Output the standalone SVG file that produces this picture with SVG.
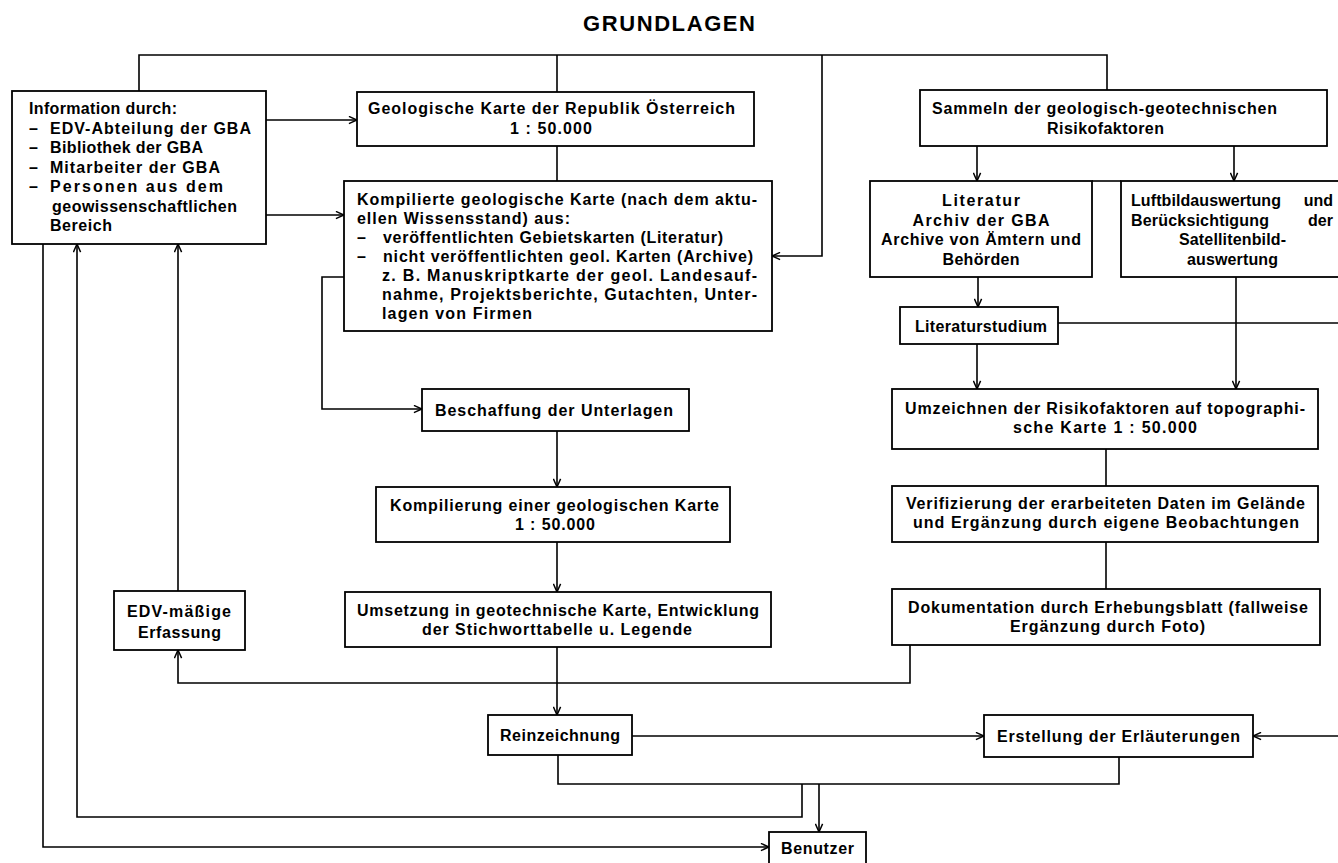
<svg xmlns="http://www.w3.org/2000/svg" width="1338" height="863" viewBox="0 0 1338 863">
<style>
  .box{fill:#fff;stroke:#000;stroke-width:1.8}
  .t{font-family:"Liberation Sans",Arial,Helvetica,sans-serif;font-weight:bold;font-size:16px;fill:#000}
  .title{font-family:"Liberation Sans",Arial,Helvetica,sans-serif;font-weight:bold;font-size:22px;fill:#000}
  .c{fill:none;stroke:#000;stroke-width:1.6}
</style>
<defs>
  <marker id="ah" viewBox="0 0 10 10" refX="10" refY="5" markerWidth="9" markerHeight="9" markerUnits="userSpaceOnUse" orient="auto">
    <path d="M1,1 L10,5 L1,9" fill="none" stroke="#000" stroke-width="1.6"/>
  </marker>
</defs>
<rect width="1338" height="863" fill="#fff"/>
<text class="title" x="583" y="31" textLength="172" lengthAdjust="spacing">GRUNDLAGEN</text>

<g id="connectors">
  <path class="c" d="M139,91 V55 H1107 V90"/>
  <path class="c" d="M557,55 V92"/>
  <path class="c" d="M822,55 V256 H772" marker-end="url(#ah)"/>
  <path class="c" d="M266,120 H357" marker-end="url(#ah)"/>
  <path class="c" d="M266,215 H344" marker-end="url(#ah)"/>
  <path class="c" d="M557,146 V181"/>
  <path class="c" d="M344,277 H322 V409 H422" marker-end="url(#ah)"/>
  <path class="c" d="M557,431 V487" marker-end="url(#ah)"/>
  <path class="c" d="M557,542 V592" marker-end="url(#ah)"/>
  <path class="c" d="M557,647 V715" marker-end="url(#ah)"/>
  <path class="c" d="M632,736 H984" marker-end="url(#ah)"/>
  <path class="c" d="M1340,736 H1253" marker-end="url(#ah)"/>
  <path class="c" d="M558,755 V784 H1119 V757"/>
  <path class="c" d="M819,784 V832" marker-end="url(#ah)"/>
  <path class="c" d="M802,784 V817 H77 V244" marker-end="url(#ah)"/>
  <path class="c" d="M43,244 V847 H769" marker-end="url(#ah)"/>
  <path class="c" d="M178,591 V244" marker-end="url(#ah)"/>
  <path class="c" d="M910,645 V683 H178 V650" marker-end="url(#ah)"/>
  <path class="c" d="M977,146 V181" marker-end="url(#ah)"/>
  <path class="c" d="M1234,146 V181" marker-end="url(#ah)"/>
  <path class="c" d="M1092,181 H1121"/>
  <path class="c" d="M978,277 V307" marker-end="url(#ah)"/>
  <path class="c" d="M1058,323 H1340"/>
  <path class="c" d="M1236,277 V389" marker-end="url(#ah)"/>
  <path class="c" d="M977,344 V389" marker-end="url(#ah)"/>
  <path class="c" d="M1106,449 V486"/>
  <path class="c" d="M1106,542 V589"/>
</g>

<g id="info">
  <rect class="box" x="12" y="91" width="254" height="153"/>
  <text class="t" x="29" y="114" textLength="148" lengthAdjust="spacing">Information durch:</text>
  <text class="t" x="29" y="133.5">–</text>
  <text class="t" x="50" y="133.5" textLength="201" lengthAdjust="spacing">EDV-Abteilung der GBA</text>
  <text class="t" x="29" y="153">–</text>
  <text class="t" x="50" y="153" textLength="153" lengthAdjust="spacing">Bibliothek der GBA</text>
  <text class="t" x="29" y="172.5">–</text>
  <text class="t" x="50" y="172.5" textLength="170" lengthAdjust="spacing">Mitarbeiter der GBA</text>
  <text class="t" x="29" y="192">–</text>
  <text class="t" x="50" y="192" textLength="173" lengthAdjust="spacing">Personen aus dem</text>
  <text class="t" x="52" y="211.5" textLength="185" lengthAdjust="spacing">geowissenschaftlichen</text>
  <text class="t" x="50" y="231" textLength="62" lengthAdjust="spacing">Bereich</text>
</g>

<g id="geokarte">
  <rect class="box" x="357" y="92" width="397" height="54"/>
  <text class="t" x="368" y="114" textLength="367" lengthAdjust="spacing">Geologische Karte der Republik Österreich</text>
  <text class="t" x="510" y="133.5" textLength="82" lengthAdjust="spacing">1 : 50.000</text>
</g>

<g id="kompilierte">
  <rect class="box" x="344" y="181" width="428" height="150"/>
  <text class="t" x="357" y="205" textLength="400" lengthAdjust="spacing">Kompilierte geologische Karte (nach dem aktu-</text>
  <text class="t" x="357" y="224" textLength="213" lengthAdjust="spacing">ellen Wissensstand) aus:</text>
  <text class="t" x="357" y="243">–</text>
  <text class="t" x="383" y="243" textLength="340" lengthAdjust="spacing">veröffentlichten Gebietskarten (Literatur)</text>
  <text class="t" x="357" y="262">–</text>
  <text class="t" x="383" y="262" textLength="370" lengthAdjust="spacing">nicht veröffentlichten geol. Karten (Archive)</text>
  <text class="t" x="382" y="281" textLength="375" lengthAdjust="spacing">z. B. Manuskriptkarte der geol. Landesauf-</text>
  <text class="t" x="382" y="300" textLength="375" lengthAdjust="spacing">nahme, Projektsberichte, Gutachten, Unter-</text>
  <text class="t" x="382" y="319" textLength="150" lengthAdjust="spacing">lagen von Firmen</text>
</g>

<g id="beschaffung">
  <rect class="box" x="422" y="389" width="267" height="42"/>
  <text class="t" x="435" y="415.5" textLength="238" lengthAdjust="spacing">Beschaffung der Unterlagen</text>
</g>

<g id="kompilierung">
  <rect class="box" x="376" y="487" width="354" height="55"/>
  <text class="t" x="390" y="511" textLength="329" lengthAdjust="spacing">Kompilierung einer geologischen Karte</text>
  <text class="t" x="515" y="530" textLength="80" lengthAdjust="spacing">1 : 50.000</text>
</g>

<g id="umsetzung">
  <rect class="box" x="345" y="592" width="426" height="55"/>
  <text class="t" x="357" y="616" textLength="402" lengthAdjust="spacing">Umsetzung in geotechnische Karte, Entwicklung</text>
  <text class="t" x="422" y="635" textLength="270" lengthAdjust="spacing">der Stichworttabelle u. Legende</text>
</g>

<g id="edv">
  <rect class="box" x="114" y="591" width="131" height="59"/>
  <text class="t" x="127" y="616.5" textLength="104" lengthAdjust="spacing">EDV-mäßige</text>
  <text class="t" x="138" y="637.5" textLength="83" lengthAdjust="spacing">Erfassung</text>
</g>

<g id="reinzeichnung">
  <rect class="box" x="488" y="715" width="144" height="40"/>
  <text class="t" x="500" y="741" textLength="120" lengthAdjust="spacing">Reinzeichnung</text>
</g>

<g id="erstellung">
  <rect class="box" x="984" y="715" width="269" height="42"/>
  <text class="t" x="997" y="742" textLength="243" lengthAdjust="spacing">Erstellung der Erläuterungen</text>
</g>

<g id="benutzer">
  <rect class="box" x="769" y="832" width="97" height="40"/>
  <text class="t" x="781" y="854" textLength="73" lengthAdjust="spacing">Benutzer</text>
</g>

<g id="sammeln">
  <rect class="box" x="920" y="90" width="407" height="56"/>
  <text class="t" x="932" y="113.5" textLength="345" lengthAdjust="spacing">Sammeln der geologisch-geotechnischen</text>
  <text class="t" x="1047" y="133.5" textLength="117" lengthAdjust="spacing">Risikofaktoren</text>
</g>

<g id="literatur">
  <rect class="box" x="870" y="181" width="222" height="96"/>
  <text class="t" x="942" y="206" textLength="78" lengthAdjust="spacing">Literatur</text>
  <text class="t" x="912.5" y="225.5" textLength="137" lengthAdjust="spacing">Archiv der GBA</text>
  <text class="t" x="881" y="245" textLength="200" lengthAdjust="spacing">Archive von Ämtern und</text>
  <text class="t" x="942.5" y="264.5" textLength="77" lengthAdjust="spacing">Behörden</text>
</g>

<g id="luftbild">
  <rect class="box" x="1121" y="181" width="230" height="96"/>
  <text class="t" x="1131" y="206" textLength="150" lengthAdjust="spacing">Luftbildauswertung</text>
  <text class="t" x="1333" y="206" text-anchor="end">und</text>
  <text class="t" x="1131" y="225.5" textLength="138" lengthAdjust="spacing">Berücksichtigung</text>
  <text class="t" x="1333" y="225.5" text-anchor="end">der</text>
  <text class="t" x="1179" y="245" textLength="107" lengthAdjust="spacing">Satellitenbild-</text>
  <text class="t" x="1187" y="264.5" textLength="91" lengthAdjust="spacing">auswertung</text>
</g>

<g id="literaturstudium">
  <rect class="box" x="900" y="307" width="158" height="37"/>
  <text class="t" x="915" y="331.5" textLength="132" lengthAdjust="spacing">Literaturstudium</text>
</g>

<g id="umzeichnen">
  <rect class="box" x="892" y="389" width="426" height="60"/>
  <text class="t" x="905" y="413.5" textLength="400" lengthAdjust="spacing">Umzeichnen der Risikofaktoren auf topographi-</text>
  <text class="t" x="1013" y="432.5" textLength="184" lengthAdjust="spacing">sche Karte 1 : 50.000</text>
</g>

<g id="verifizierung">
  <rect class="box" x="892" y="486" width="426" height="56"/>
  <text class="t" x="906" y="508.5" textLength="399" lengthAdjust="spacing">Verifizierung der erarbeiteten Daten im Gelände</text>
  <text class="t" x="913" y="527.5" textLength="386" lengthAdjust="spacing">und Ergänzung durch eigene Beobachtungen</text>
</g>

<g id="dokumentation">
  <rect class="box" x="892" y="589" width="428" height="56"/>
  <text class="t" x="908" y="612.5" textLength="400" lengthAdjust="spacing">Dokumentation durch Erhebungsblatt (fallweise</text>
  <text class="t" x="1010" y="631.5" textLength="195" lengthAdjust="spacing">Ergänzung durch Foto)</text>
</g>
</svg>
